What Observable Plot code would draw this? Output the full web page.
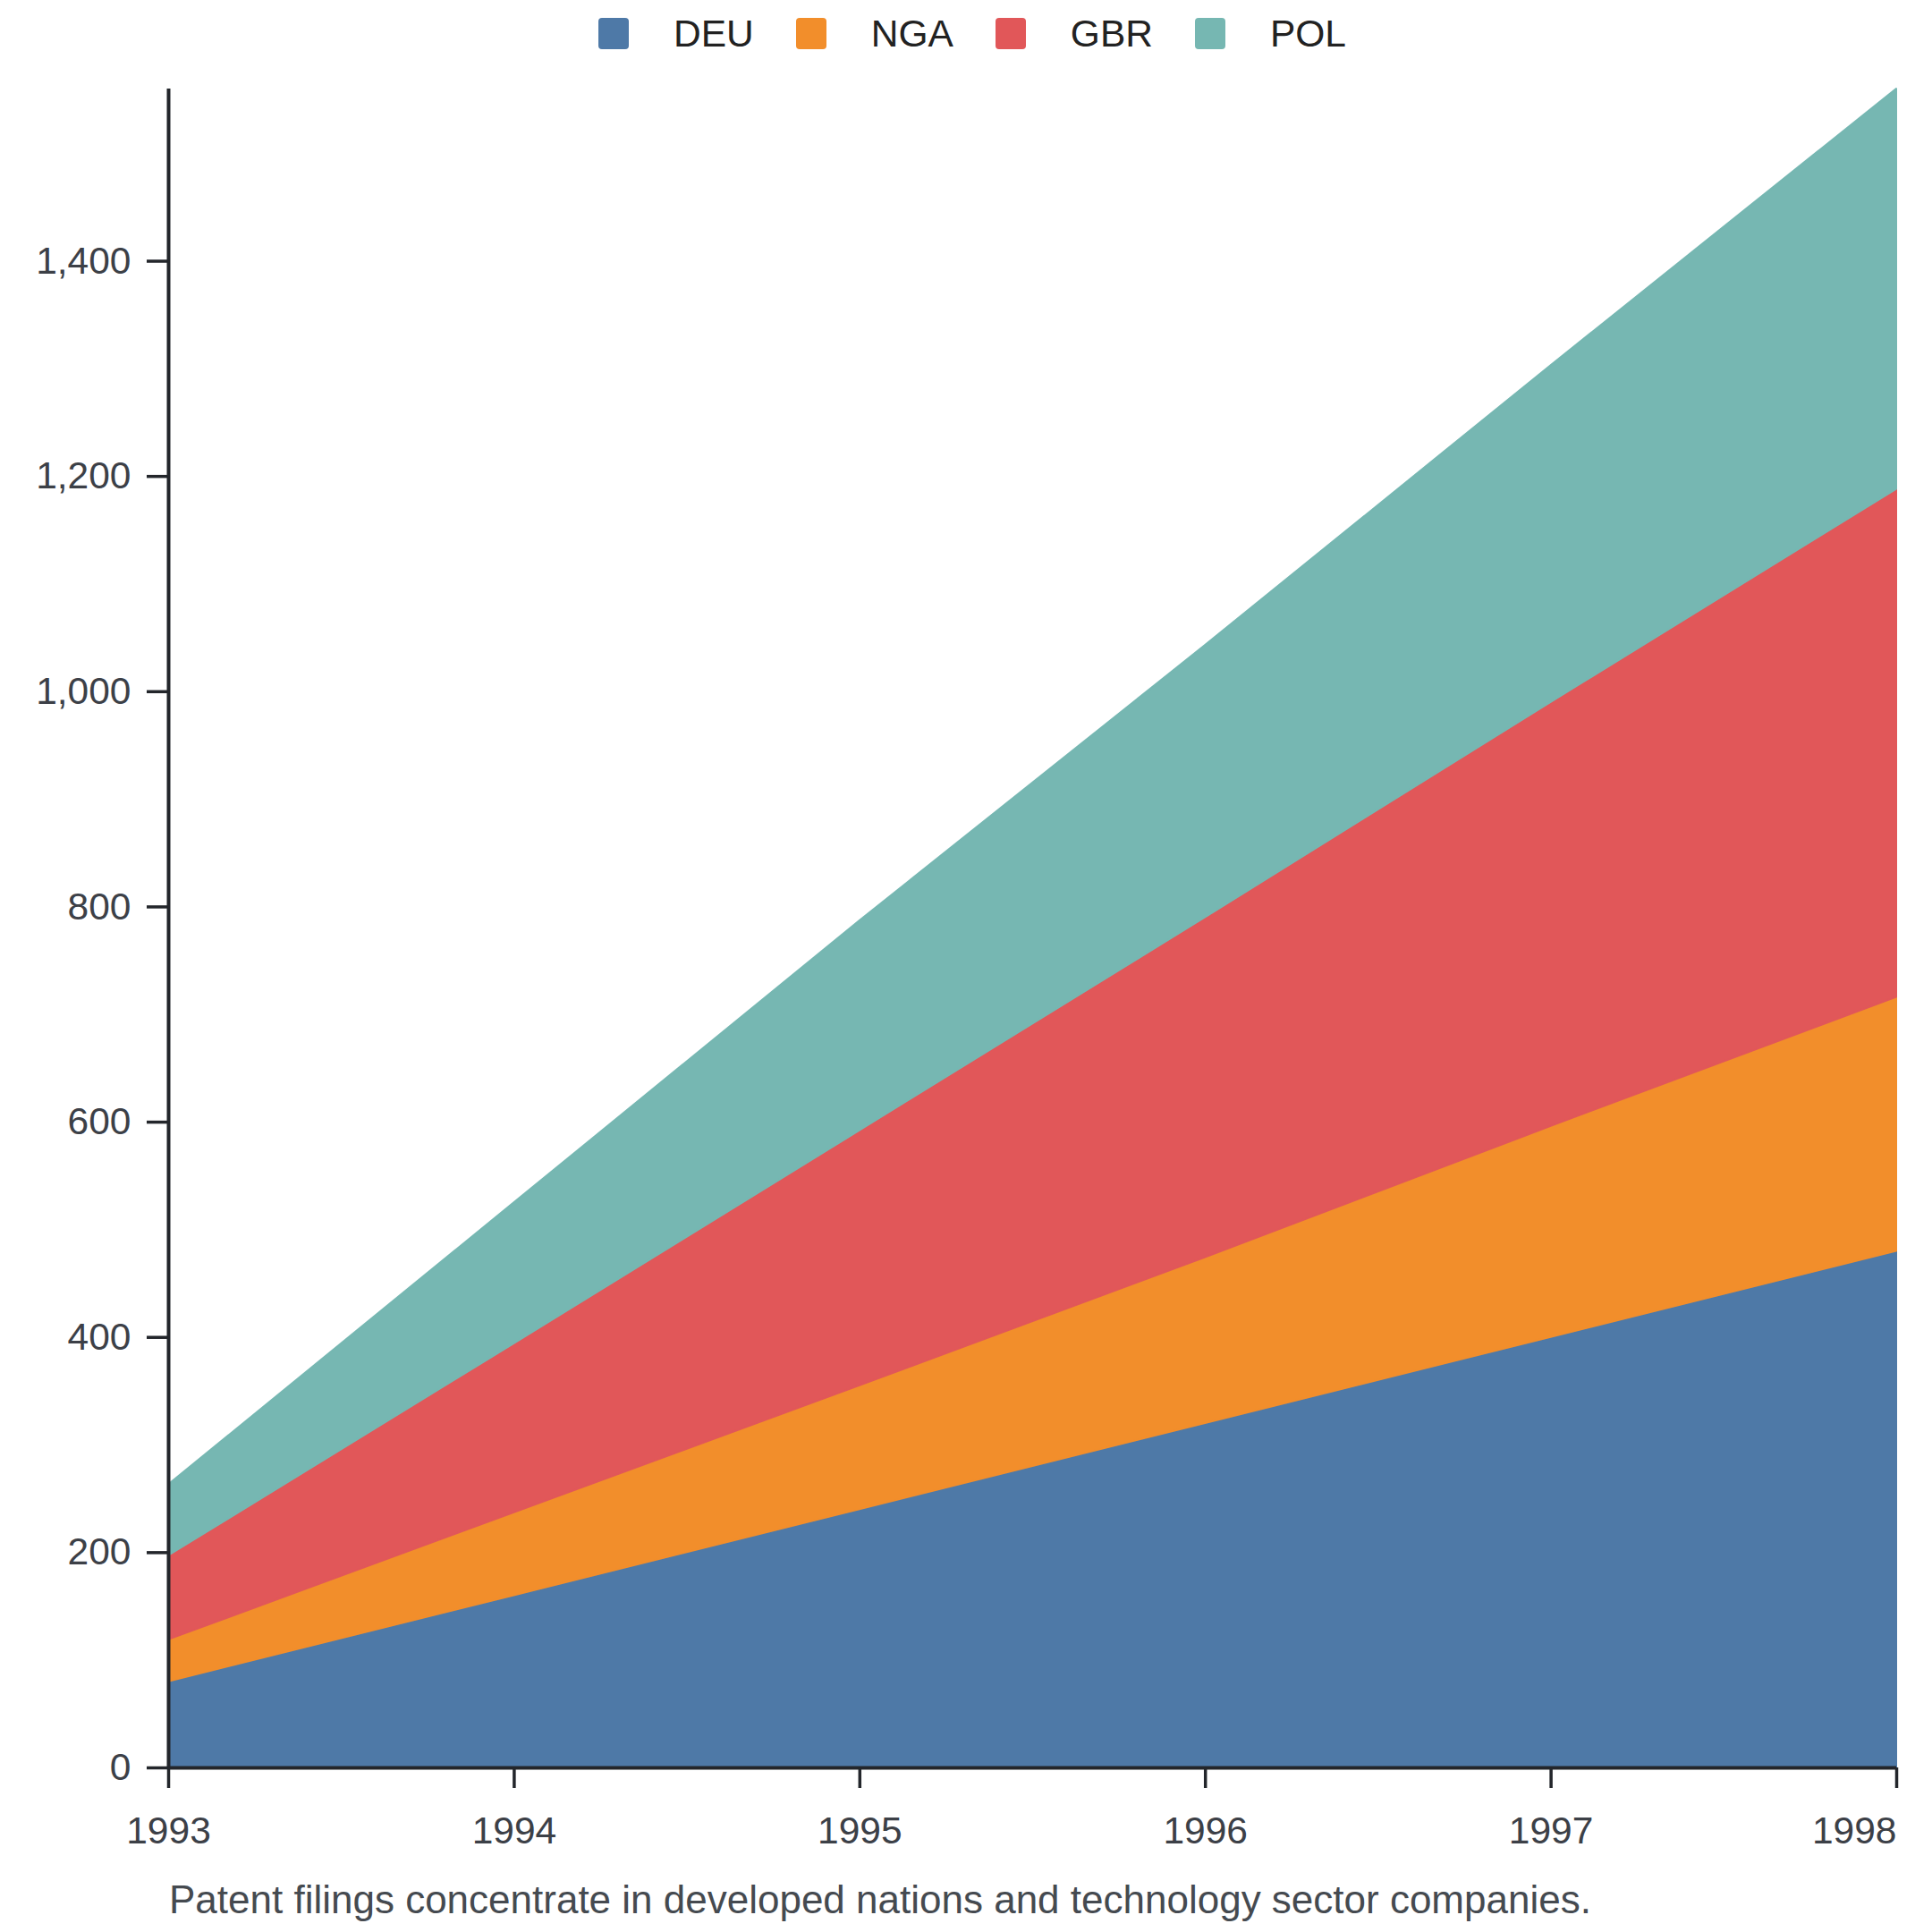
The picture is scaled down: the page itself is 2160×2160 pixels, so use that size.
<!DOCTYPE html>
<html>
<head>
<meta charset="utf-8">
<script src="https://cdn.jsdelivr.net/npm/d3@7"></script>
<script src="https://cdn.jsdelivr.net/npm/@observablehq/plot@0.6"></script>
<style>
  body { margin: 0; background: #fff; font-family: "Liberation Sans", Arial, sans-serif; }
  #legend { height: 75px; display: flex; justify-content: center; align-items: center; padding-left: 14px; box-sizing: border-box; width: 2160px; }
  .item { display: flex; align-items: center; margin-right: 47px; }
  .item:last-child { margin-right: 0; }
  .sw { width: 34px; height: 35px; border-radius: 4px; margin-right: 50px; }
  .lab { font-size: 42.5px; color: #222; line-height: 48px; }
  #caption { font-size: 44px; line-height: 48px; color: #454a50; padding-left: 189px; margin-top: 15px; }
</style>
</head>
<body>
<div id="legend"></div>
<div id="chart"></div>
<div id="caption">Patent filings concentrate in developed nations and technology sector companies.</div>
<script>
const years = [1993, 1994, 1995, 1996, 1997, 1998];
const countries = ["DEU", "NGA", "GBR", "POL"];
const DEU = [80, 160, 240, 320, 400, 480];
const NGA = [39, 77, 115, 154, 196, 236];
const GBR = [78, 157, 237, 316, 394, 472];
const POL = [66, 131, 195, 253, 313, 372];
const colors = ["#4e79a7", "#f28e2b", "#e15759", "#76b7b2"];
const yTicks = [0, 200, 400, 600, 800, 1000, 1200, 1400];

const series = {DEU, NGA, GBR, POL};
const data = countries.flatMap(c => years.map((yr, i) => ({year: yr, country: c, value: series[c][i]})));

const axisStyle = {tickSize: 23, tickPadding: 31, strokeWidth: 3.5, stroke: "#23262b", fill: "#3c4047", label: null, tickFormat: d => String(d)};

const plot = Plot.plot({
  width: 2160,
  height: 2010,
  marginLeft: 188,
  marginRight: 40,
  marginTop: 24,
  marginBottom: 109,
  style: {fontFamily: "'Liberation Sans', Arial, sans-serif", fontSize: "42.5px", color: "#3c4047", background: "#fff", overflow: "visible"},
  x: {domain: [1993, 1998], label: null},
  y: {domain: [0, 1560], label: null},
  color: {domain: countries, range: colors},
  marks: [
    Plot.areaY(data, {x: "year", y: "value", z: "country", fill: "country", stroke: "country", strokeWidth: 2, order: countries}),
    Plot.axisX(years.slice(0, -1), axisStyle),
    Plot.axisX(years.slice(-1), {...axisStyle, textAnchor: "end"}),
    Plot.axisY({ticks: yTicks, tickFormat: d3.format(","), tickSize: 24, tickPadding: 18, strokeWidth: 3.5, stroke: "#23262b", fill: "#3c4047", label: null}),
    Plot.ruleY([0], {stroke: "#23262b", strokeWidth: 4}),
    Plot.ruleX([1993], {stroke: "#23262b", strokeWidth: 4})
  ]
});
document.getElementById("chart").appendChild(plot);

const color = plot.scale("color");
const legend = document.getElementById("legend");
countries.forEach(c => {
  const it = document.createElement("div");
  it.className = "item";
  const sw = document.createElement("div");
  sw.className = "sw";
  sw.style.background = color.apply(c);
  const lab = document.createElement("span");
  lab.className = "lab";
  lab.textContent = c;
  it.appendChild(sw); it.appendChild(lab);
  legend.appendChild(it);
});
</script>
</body>
</html>
